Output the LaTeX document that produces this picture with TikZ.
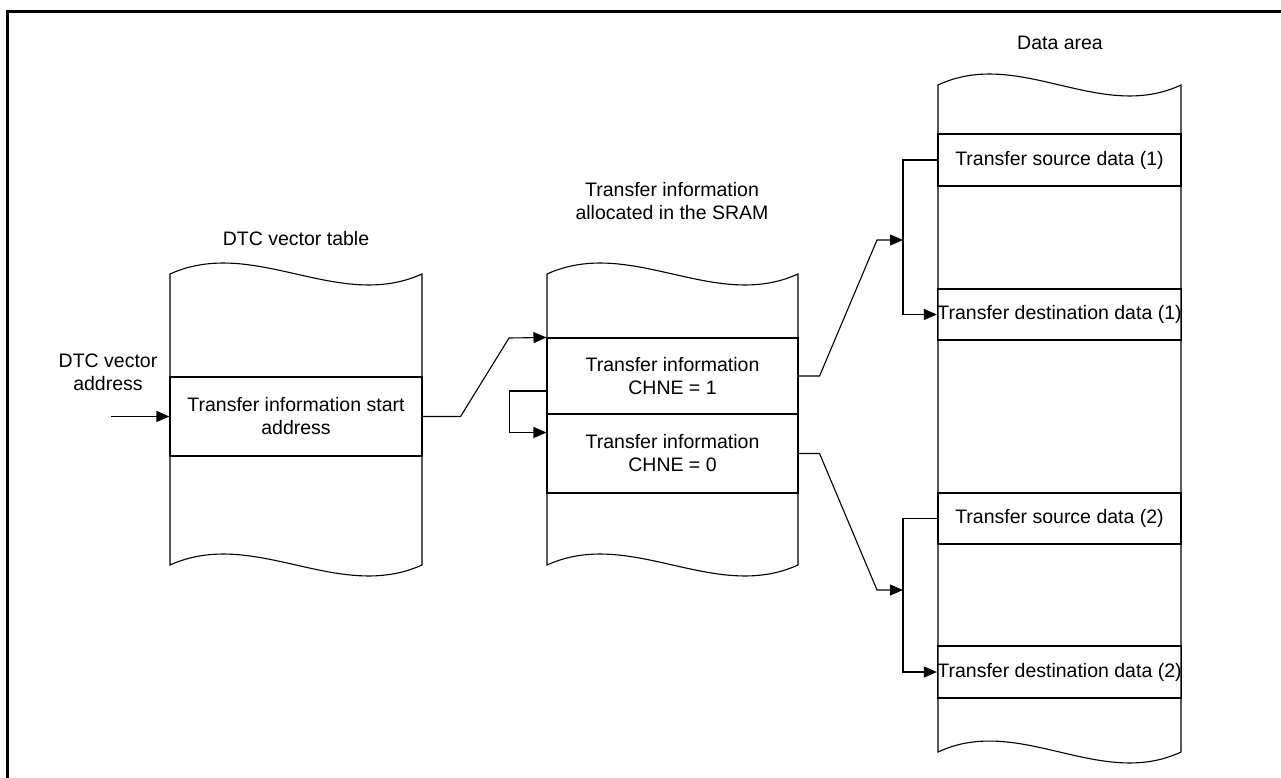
\documentclass[tikz,border=0pt]{standalone}
\usepackage{fontspec}
\setmainfont{Liberation Sans}
\usetikzlibrary{arrows.meta}

% outline of a memory column with wavy top and bottom: left, right, top, bottom
\newcommand{\memcolumn}[4]{%
  \draw[thin line] (#1,#3) .. controls ({#1+(#2-#1)/3},{#3-38}) and ({#1+2*(#2-#1)/3},{#3+38}) .. (#2,#3)
    -- (#2,#4) .. controls ({#1+2*(#2-#1)/3},{#4+38}) and ({#1+(#2-#1)/3},{#4-38}) .. (#1,#4) -- cycle;}

\begin{document}
\begin{tikzpicture}[x=1pt, y=-1pt,
    font=\fontsize{19.5}{23}\selectfont,
    thin line/.style={line width=1.1pt},
    cell/.style={draw, thin line, inner sep=0pt, align=center},
    link/.style={thin line, -{Triangle[length=13pt,width=11pt]}}
]
\useasboundingbox (0,0) rectangle (1281,778);
\draw[line width=3pt] (7.5,778) -- (7.5,11.5) -- (1281,11.5);

% columns
\memcolumn{170}{422}{274}{565}
\memcolumn{547}{798}{274}{565}
\memcolumn{938}{1181}{85}{752}

% titles
\node (vectitle) at (296,239) {DTC vector table};
\node[align=center] (infotitle) at (672,201.5) {Transfer information\\allocated in the SRAM};
\node (datatitle) at (1060,43) {Data area};
\node[align=center] (vecaddr) at (108,372) {DTC vector\\address};

% cells
\node[cell, minimum width=252pt, minimum height=79pt] (vecent) at (296,416.5) {Transfer information start\\address};
\node[cell, minimum width=251pt, minimum height=76pt] (info1) at (672.5,376) {Transfer information\\CHNE = 1};
\node[cell, minimum width=251pt, minimum height=79pt] (info2) at (672.5,453.5) {Transfer information\\CHNE = 0};
\node[cell, minimum width=243pt, minimum height=52pt] (src1) at (1059.5,160) {Transfer source data (1)};
\node[cell, minimum width=243pt, minimum height=51pt] (dst1) at (1059.5,314.5) {Transfer destination data (1)};
\node[cell, minimum width=243pt, minimum height=51pt] (src2) at (1059.5,518.5) {Transfer source data (2)};
\node[cell, minimum width=243pt, minimum height=52pt] (dst2) at (1059.5,672) {Transfer destination data (2)};

% connectors
\coordinate (vecin) at (111,416.5);
\coordinate (join1) at (903,240);
\coordinate (join2) at (903,590);
\draw[link] (vecin) -- (vecent.west);
\draw[link] (vecent.east) -- ++(38,0) -- (509,338) -- (info1.north west);
\draw[link] ([yshift=-15pt]info1.west) -- ++(-37,0) |- ([yshift=21pt]info2.west);
\draw[link] (info1.east) -- ++(21,0) -- (877,240) -- (join1);
\draw[link] (info2.east) -- ++(21,0) -- (877,590) -- (join2);
\draw[link] (src1.west) -- (src1.west -| join1) |- (dst1.west);
\draw[link] (src2.west) -- (src2.west -| join2) |- (dst2.west);
\end{tikzpicture}
\end{document}
